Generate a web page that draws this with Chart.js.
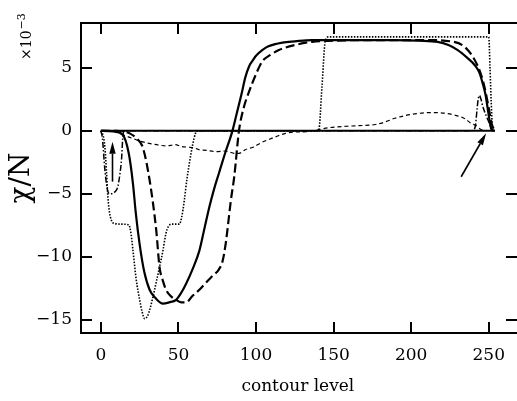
<!DOCTYPE html>
<html lang="en">
  <head>
    <meta charset="UTF-8" />
    <title>chi / N vs contour level</title>
    <style>
      body { margin: 0; background: #fff; }
      canvas { display: block; }
    </style>
  </head>
  <body>
    <canvas id="chart-1" width="517" height="401"></canvas>
    <script src="https://cdn.jsdelivr.net/npm/chart.js"></script>
    <script>
      // axis ticks
      const xTicks = [0, 50, 100, 150, 200, 250];
      const yTicks = [-15, -10, -5, 0, 5];

      // solid curve
      const solidX = [0, 8, 14, 18, 20.7, 22.5, 25, 28, 31.4, 35.5, 40, 44, 48.5, 52, 55, 59, 63.5, 67, 70, 73, 76, 80, 84.8, 88, 91, 93, 95.5, 98, 100, 104, 108, 117, 125, 136, 150, 170, 190, 205, 217, 224, 230, 236, 241, 244, 246, 248, 249.5, 251.5, 253];
      const solidY = [0, -0.05, -0.3, -1.8, -4.2, -6.5, -9.0, -11.2, -12.6, -13.3, -13.7, -13.6, -13.4, -12.8, -12.1, -11.0, -9.5, -7.6, -6.0, -4.6, -3.4, -1.8, 0, 1.6, 3.1, 4.2, 5.1, 5.6, 5.95, 6.4, 6.7, 7.0, 7.1, 7.2, 7.2, 7.2, 7.2, 7.15, 7.05, 6.8, 6.4, 5.8, 5.2, 4.6, 3.8, 2.8, 1.6, 0.2, 0];

      // long dashed curve
      const dashX = [0, 10, 15, 18.6, 23, 27, 31.4, 35.7, 37.8, 40, 42, 45, 48.5, 52, 55, 59, 63.5, 68, 72, 76, 78.5, 80.5, 83.8, 86, 89, 92, 95.5, 100, 104, 109, 114.7, 125, 136, 150, 180, 210, 225, 235, 243, 247, 250, 252, 254];
      const dashY = [0, 0, -0.05, -0.2, -0.6, -1.3, -3.9, -7.9, -10.8, -11.9, -12.6, -13.1, -13.4, -13.6, -13.6, -13.1, -12.6, -12.0, -11.5, -11.0, -10.3, -8.9, -5.5, -3.6, 0, 1.8, 3.1, 4.5, 5.5, 6.0, 6.4, 6.8, 7.06, 7.15, 7.2, 7.2, 7.1, 6.6, 5.1, 3.6, 1.8, 0.5, 0];

      // dotted curve
      const dotX = [0, 1.5, 2.6, 3.6, 4.5, 5.5, 6.8, 9, 14, 18, 19.5, 20.7, 22.8, 25, 26.5, 28.2, 30, 31.7, 33.5, 35.7, 37.8, 40, 42, 43.5, 45.3, 50.6, 52, 53.8, 55.5, 57, 59, 61, 62.5, 139, 140.4, 142.5, 144.6, 146.7, 200, 250, 250.8, 251.5, 252.5, 254];
      const dotY = [0, -0.4, -1.3, -3.2, -5.2, -6.4, -7.1, -7.35, -7.4, -7.45, -8.2, -9.5, -11.8, -13.4, -14.3, -14.9, -14.7, -14.1, -13.2, -12.0, -10.8, -9.5, -8.1, -7.6, -7.4, -7.4, -6.9, -5.5, -3.8, -2.6, -1.2, -0.2, 0, 0, 0.05, 3.5, 7.1, 7.45, 7.45, 7.45, 5.0, 2.5, 0.2, 0];

      // short dashed curve
      const shortX = [0, 8, 12, 16, 20.5, 25, 31, 36, 42, 48, 52, 57, 60, 63.5, 68, 74, 80, 87, 90, 93, 98, 104, 110, 119, 125, 134, 147, 164, 177, 183, 189.5, 200, 209, 215, 221.5, 228, 234, 238.6, 242, 245, 247];
      const shortY = [0, 0, -0.2, -0.4, -0.6, -0.8, -1.0, -1.1, -1.2, -1.1, -1.25, -1.3, -1.35, -1.5, -1.55, -1.65, -1.6, -1.8, -1.75, -1.5, -1.3, -0.9, -0.6, -0.2, -0.1, -0.05, 0.25, 0.4, 0.5, 0.7, 1.0, 1.3, 1.43, 1.45, 1.4, 1.25, 1.0, 0.6, 0.4, 0.1, 0];

      // dash-dot curve
      const dashDotX = [0, 1, 2.6, 4.5, 6, 7.7, 10, 11, 12.3, 13.3, 14.3, 15.5, 238, 240.5, 241.5, 242.5, 243.3, 244, 245, 246, 248, 250.4, 252.5, 254];
      const dashDotY = [0, -0.6, -3.1, -4.8, -5.0, -4.95, -4.7, -4.4, -3.4, -2.3, -0.3, 0, 0, 0.1, 0.5, 1.8, 2.6, 2.8, 2.5, 2.0, 1.3, 0.6, 0, 0];

      // zero line
      const zeroX = [0, 254];
      const zeroY = [0, 0];

      // arrows [x tail, y tail, x head, y head]
      const arrows = [
        [7.5, -4.03, 7.5, -0.86],
        [232.2, -3.64, 248.3, -0.2],
      ];

      const xMin = -12.8, xMax = 266.7;
      const yMin = -16.03, yMax = 8.55;

      function pts(xs, ys) {
        return xs.map((x, i) => ({ x: x, y: ys[i] }));
      }
      function fmt(v) {
        return String(v).replace("-", "\u2212");
      }

      const serif = "'DejaVu Serif', 'Liberation Serif', serif";

      const framePlugin = {
        id: "frame",
        afterDraw(chart) {
          const ctx = chart.ctx;
          const a = chart.chartArea;
          const sx = chart.scales.x, sy = chart.scales.y;
          const rightEdge = chart.width;
          ctx.save();
          ctx.strokeStyle = "#000";
          ctx.lineWidth = 2;
          // frame: top, left, bottom (right side falls outside the picture)
          ctx.beginPath();
          ctx.moveTo(rightEdge, a.top);
          ctx.lineTo(a.left, a.top);
          ctx.lineTo(a.left, a.bottom);
          ctx.lineTo(rightEdge, a.bottom);
          ctx.stroke();
          ctx.beginPath();
          const tl = 11;
          xTicks.forEach((v) => {
            const px = Math.round(sx.getPixelForValue(v));
            ctx.moveTo(px, a.bottom); ctx.lineTo(px, a.bottom - tl);
            ctx.moveTo(px, a.top); ctx.lineTo(px, a.top + tl);
          });
          yTicks.forEach((v) => {
            const py = Math.round(sy.getPixelForValue(v));
            ctx.moveTo(a.left, py); ctx.lineTo(a.left + tl, py);
            ctx.moveTo(rightEdge, py); ctx.lineTo(rightEdge - tl, py);
          });
          ctx.stroke();

          // arrows
          ctx.fillStyle = "#000";
          ctx.lineWidth = 1.6;
          arrows.forEach((ar) => {
            const x0 = sx.getPixelForValue(ar[0]), y0 = sy.getPixelForValue(ar[1]);
            const x1 = sx.getPixelForValue(ar[2]), y1 = sy.getPixelForValue(ar[3]);
            const ang = Math.atan2(y1 - y0, x1 - x0);
            const hl = 12, hw = 3.2;
            const bx = x1 - hl * Math.cos(ang), by = y1 - hl * Math.sin(ang);
            ctx.beginPath();
            ctx.moveTo(x0, y0); ctx.lineTo(bx, by);
            ctx.stroke();
            ctx.beginPath();
            ctx.moveTo(x1, y1);
            ctx.lineTo(bx + hw * Math.sin(ang), by - hw * Math.cos(ang));
            ctx.lineTo(bx - hw * Math.sin(ang), by + hw * Math.cos(ang));
            ctx.closePath();
            ctx.fill();
          });

          // x10^-3 multiplier
          ctx.translate(31, 60);
          ctx.rotate(-Math.PI / 2);
          ctx.textAlign = "left";
          ctx.textBaseline = "alphabetic";
          ctx.font = "14px " + serif;
          ctx.fillText("\u00d710", 0, 0);
          const w = ctx.measureText("\u00d710").width;
          ctx.font = "11px " + serif;
          ctx.fillText("\u22123", w + 1, -6);
          ctx.restore();
        },
      };

      const ctx_1 = document.getElementById("chart-1");

      new Chart(ctx_1, {
        type: "line",
        data: {
          datasets: [
            {
              data: pts(zeroX, zeroY),
              borderColor: "#000",
              borderWidth: 2,
              tension: 0,
            },
            {
              data: pts(shortX, shortY),
              borderColor: "#000",
              borderWidth: 1.2,
              borderDash: [4, 3],
              cubicInterpolationMode: "monotone",
            },
            {
              data: pts(dashDotX, dashDotY),
              borderColor: "#000",
              borderWidth: 1.5,
              borderDash: [6, 2, 1.5, 2],
              cubicInterpolationMode: "monotone",
            },
            {
              data: pts(dotX, dotY),
              borderColor: "#000",
              borderWidth: 1.6,
              borderDash: [1.5, 1.5],
              cubicInterpolationMode: "monotone",
            },
            {
              data: pts(dashX, dashY),
              borderColor: "#000",
              borderWidth: 2.2,
              borderDash: [9, 4],
              cubicInterpolationMode: "monotone",
            },
            {
              data: pts(solidX, solidY),
              borderColor: "#000",
              borderWidth: 2.2,
              cubicInterpolationMode: "monotone",
            },
          ],
        },
        options: {
          responsive: false,
          animation: false,
          events: [],
          layout: { padding: { top: 23, left: 0, right: 0, bottom: 0 } },
          elements: { point: { radius: 0 } },
          plugins: { legend: { display: false }, tooltip: { enabled: false } },
          scales: {
            x: {
              type: "linear",
              min: xMin,
              max: xMax,
              afterBuildTicks: (s) => { s.ticks = xTicks.map((v) => ({ value: v })); },
              afterFit: (s) => { s.height = 68; },
              grid: { display: false, drawTicks: false },
              border: { display: false },
              ticks: {
                color: "#000",
                font: { family: serif, size: 17 },
                padding: 12,
                maxRotation: 0,
                autoSkip: false,
                callback: fmt,
              },
              title: {
                display: true,
                text: "contour level",
                color: "#000",
                font: { family: serif, size: 17 },
                padding: { top: 0, bottom: 4 },
              },
            },
            y: {
              type: "linear",
              min: yMin,
              max: yMax,
              afterBuildTicks: (s) => { s.ticks = yTicks.map((v) => ({ value: v })); },
              afterFit: (s) => { s.width = 81; },
              grid: { display: false, drawTicks: false },
              border: { display: false },
              ticks: {
                color: "#000",
                font: { family: serif, size: 17 },
                padding: 9,
                autoSkip: false,
                callback: fmt,
              },
              title: {
                display: true,
                text: "\u03c7/N",
                color: "#000",
                font: { family: serif, size: 28 },
                padding: { top: 5, bottom: 0 },
              },
            },
          },
        },
        plugins: [framePlugin],
      });
    </script>
  </body>
</html>
